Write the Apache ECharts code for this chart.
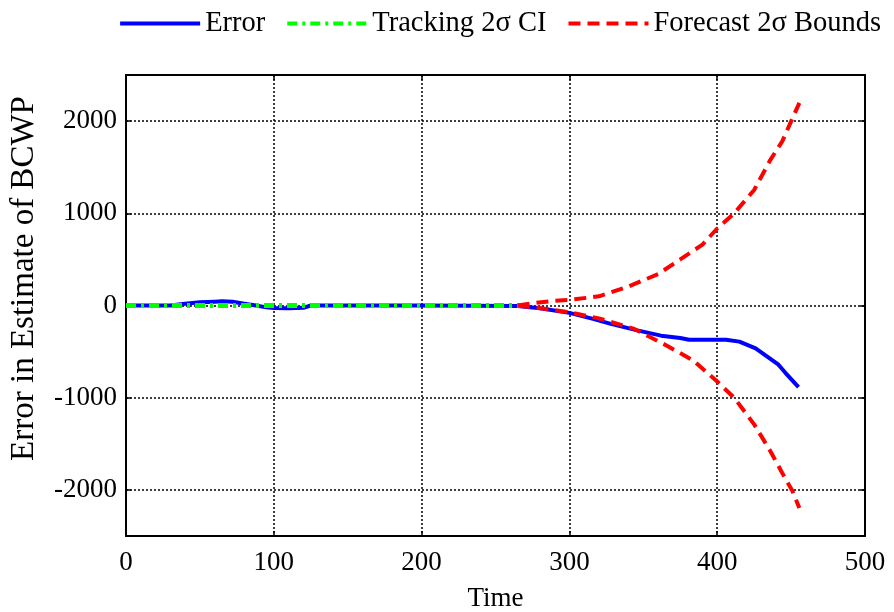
<!DOCTYPE html>
<html>
<head>
<meta charset="utf-8">
<script src="https://cdn.jsdelivr.net/npm/echarts@6/dist/echarts.min.js"></script>
<style>
  html, body { margin: 0; padding: 0; background: #fff; }
  #chart { width: 894px; height: 612px; }
</style>
</head>
<body>
<div id="chart"></div>
<script>
// Estimation error of BCWP over time, with tracking and forecast bounds
const errorTime = [0, 30, 40, 50, 60, 65, 72, 80, 88, 95, 100, 110, 120, 125, 130, 200, 265, 280, 300, 316, 328, 346, 362, 375, 381, 406, 415, 426, 441, 446, 455];
const errorValue = [0, 0, 20, 35, 42, 45, 40, 20, 0, -20, -28, -30, -25, 0, 0, 0, -5, -30, -80, -145, -199, -270, -327, -352, -372, -372, -392, -465, -635, -727, -885];

const trackTime = [0, 50, 100, 150, 200, 250, 270];
const trackUpper = [5, 5, 5, 5, 5, 5, 5];
const trackLower = [-5, -5, -5, -5, -5, -5, -5];

const fcUpperTime = [265, 275, 290, 301, 320, 339, 360, 375, 390, 400, 411, 425, 436, 444, 450, 455.6];
const fcUpperValue = [0, 25, 50, 62, 100, 200, 340, 500, 660, 835, 991, 1253, 1580, 1780, 1997, 2197];
const fcLowerTime = [265, 275, 290, 300, 320, 344, 366, 384, 400, 411.5, 425, 436, 444, 451, 455.6];
const fcLowerValue = [0, -20, -50, -73, -140, -254, -436, -599, -825, -1000, -1289, -1580, -1816, -2015, -2197];

const yTicks = [-2000, -1000, 0, 1000, 2000];

const legendNames = ['Error', 'Tracking 2\u03c3 CI', 'Forecast 2\u03c3 Bounds'];

const pairs = (xs, ys) => xs.map((x, i) => [x, ys[i]]);

const FONT = 'Liberation Serif';
const textStyle = { fontFamily: FONT, fontSize: 27, color: '#000' };

const frameLine = { show: true, onZero: false, lineStyle: { color: '#000', width: 2 } };
const gridLine = { show: true, lineStyle: { color: '#000', width: 1.5, type: [2, 2] } };
const innerTick = { show: true, inside: true, length: 5, lineStyle: { color: '#000', width: 1.5 } };

const chart = echarts.init(document.getElementById('chart'), null, { renderer: 'canvas' });

const greenDash = [10, 5, 3, 5];
const redDash = [12, 7];

chart.setOption({
  animation: false,
  backgroundColor: '#fff',
  textStyle: { fontFamily: FONT },
  grid: { left: 126, right: 29, top: 75, bottom: 76, containLabel: false, outerBoundsMode: 'none' },
  legend: {
    data: legendNames,
    top: 4,
    right: 8,
    itemWidth: 80,
    itemHeight: 20,
    itemGap: 20,
    itemStyle: { opacity: 0 },
    lineStyle: { width: 4 },
    textStyle: { fontFamily: FONT, fontSize: 28.5, color: '#000' }
  },
  xAxis: [{
    type: 'value', min: 0, max: 500, interval: 100,
    position: 'bottom',
    name: 'Time', nameLocation: 'middle', nameGap: 49,
    nameTextStyle: textStyle,
    axisLine: frameLine,
    axisTick: innerTick,
    axisLabel: Object.assign({ margin: 13 }, textStyle),
    splitLine: gridLine
  }, {
    type: 'value', min: 0, max: 500, interval: 100,
    position: 'top',
    axisLine: frameLine,
    axisTick: innerTick,
    axisLabel: { show: false },
    splitLine: { show: false }
  }],
  yAxis: [{
    type: 'value', min: -2500, max: 2500,
    position: 'left',
    name: 'Error in Estimate of BCWP', nameLocation: 'middle', nameGap: 85, nameRotate: 90,
    nameTextStyle: { fontFamily: FONT, fontSize: 33, color: '#000', padding: [0, 0, 0, 54] },
    axisLine: frameLine,
    axisTick: Object.assign({ customValues: yTicks }, innerTick),
    axisLabel: Object.assign({ margin: 9, customValues: yTicks, formatter: v => String(v) }, textStyle),
    splitLine: gridLine
  }, {
    type: 'value', min: -2500, max: 2500,
    position: 'right',
    axisLine: frameLine,
    axisTick: Object.assign({ customValues: yTicks }, innerTick),
    axisLabel: { show: false, customValues: yTicks },
    splitLine: { show: false }
  }],
  series: [{
    name: legendNames[0], type: 'line', xAxisIndex: 0, yAxisIndex: 0,
    data: pairs(errorTime, errorValue),
    symbol: 'none',
    lineStyle: { color: '#0000ff', width: 4, type: 'solid' },
    itemStyle: { color: '#0000ff' }
  }, {
    name: legendNames[1], type: 'line',
    data: pairs(trackTime, trackUpper),
    symbol: 'none',
    lineStyle: { color: '#00ff00', width: 4, type: greenDash },
    itemStyle: { color: '#00ff00' }
  }, {
    name: legendNames[1], type: 'line',
    data: pairs(trackTime, trackLower),
    symbol: 'none',
    lineStyle: { color: '#00ff00', width: 4, type: greenDash },
    itemStyle: { color: '#00ff00' }
  }, {
    name: legendNames[2], type: 'line',
    data: pairs(fcUpperTime, fcUpperValue),
    symbol: 'none',
    lineStyle: { color: '#ff0000', width: 4, type: redDash },
    itemStyle: { color: '#ff0000' }
  }, {
    name: legendNames[2], type: 'line',
    data: pairs(fcLowerTime, fcLowerValue),
    symbol: 'none',
    lineStyle: { color: '#ff0000', width: 4, type: redDash },
    itemStyle: { color: '#ff0000' }
  }]
});
</script>
</body>
</html>
